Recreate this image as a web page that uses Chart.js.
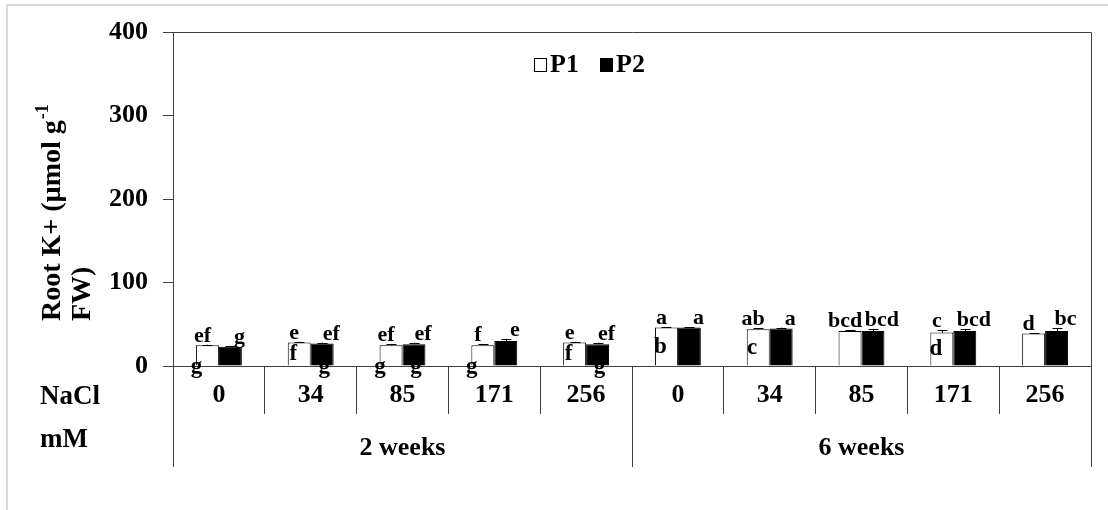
<!DOCTYPE html>
<html>
<head>
<meta charset="utf-8">
<script src="https://cdn.jsdelivr.net/npm/chart.js@4/dist/chart.umd.min.js"></script>
<style>
  html, body { margin: 0; padding: 0; background: #fff; }
  #wrap { position: relative; width: 1108px; height: 510px; overflow: hidden; background: #fff; }
  #frame { position: absolute; left: 6px; top: 4px; width: 1200px; height: 600px;
           border-left: 2px solid #d9d9d9; border-top: 2px solid #d9d9d9; }
  canvas { position: absolute; left: 0; top: 0; }
</style>
</head>
<body>
<div id="wrap">
  <div id="frame"></div>
  <canvas id="chart" width="1108" height="510"></canvas>
</div>
<script>
// NaCl doses (mM) for each harvest
const doses = ['0', '34', '85', '171', '256', '0', '34', '85', '171', '256'];
const periods = ['2 weeks', '6 weeks'];
const seriesNames = ['P1', 'P2'];

// Root K+ (µmol g-1 FW)
const p1 = [25, 28, 25, 25, 28, 46, 44, 42, 40, 39];
const p2 = [23, 27, 26, 30, 26, 46, 45, 42, 42, 42];
const p1Err = [0.5, 1, 1, 1, 1, 0.5, 1, 1, 3, 0.5];
const p2Err = [1, 1, 2, 2, 2, 0.5, 1, 2, 2, 3];

// significance letters
const p1Letters = ['ef', 'e', 'ef', 'f', 'e', 'a', 'ab', 'bcd', 'c', 'd'];
const p2Letters = ['g', 'ef', 'ef', 'e', 'ef', 'a', 'a', 'bcd', 'bcd', 'bc'];
const p1MidLetters = ['', 'f', '', '', 'f', 'b', 'c', '', 'd', ''];
const p1BaseLetters = ['g', '', 'g', 'g', '', '', '', '', '', ''];
const p2BaseLetters = ['', 'g', 'g', '', 'g', '', '', '', '', ''];

const yTicks = [0, 100, 200, 300, 400];
const yMin = 0, yMax = 400;

const FONT = '"Liberation Serif", "Times New Roman", serif';
const LINE = '#404040';

const decor = {
  id: 'decor',
  afterDraw(chart) {
    const ctx = chart.ctx;
    const area = chart.chartArea;
    const xs = chart.scales.x;
    const ys = chart.scales.y;
    const base = ys.getPixelForValue(0);

    ctx.save();
    // plot frame: top and right edges
    ctx.strokeStyle = LINE;
    ctx.lineWidth = 1;
    ctx.beginPath();
    ctx.moveTo(area.left, area.top + 0.5);
    ctx.lineTo(area.right + 0.5, area.top + 0.5);
    ctx.lineTo(area.right + 0.5, area.bottom);
    ctx.stroke();

    // long separators for the harvest groups
    const half = (xs.getPixelForValue(1) - xs.getPixelForValue(0)) / 2;
    const per = doses.length / periods.length;
    const bounds = [];
    for (let g = 0; g <= periods.length; g++) {
      const idx = g * per;
      bounds.push(idx < doses.length ? xs.getPixelForValue(idx) - half
                                     : xs.getPixelForValue(doses.length - 1) + half);
    }
    ctx.beginPath();
    bounds.forEach(bx => {
      const px = Math.round(bx) + 0.5;
      ctx.moveTo(px, area.bottom);
      ctx.lineTo(px, 467);
    });
    ctx.stroke();

    // group labels and row captions
    ctx.fillStyle = '#000';
    ctx.font = 'bold 26px ' + FONT;
    ctx.textAlign = 'center';
    ctx.textBaseline = 'middle';
    periods.forEach((p, g) => {
      ctx.fillText(p, (bounds[g] + bounds[g + 1]) / 2, 448);
    });
    ctx.textAlign = 'left';
    ctx.font = 'bold 27px ' + FONT;
    ctx.fillText('NaCl', 40, 397);
    ctx.fillText('mM', 40, 440);

    // y axis title (two lines, rotated)
    ctx.font = 'bold 28px ' + FONT;
    ctx.save();
    ctx.translate(53, 321);
    ctx.rotate(-Math.PI / 2);
    ctx.textAlign = 'left';
    ctx.textBaseline = 'middle';
    const t1 = 'Root K+ (µmol g';
    ctx.fillText(t1, 0, 0);
    const w1 = ctx.measureText(t1).width;
    ctx.font = 'bold 18px ' + FONT;
    ctx.fillText('-1', w1 + 1, -10);
    ctx.restore();
    ctx.save();
    ctx.font = 'bold 28px ' + FONT;
    ctx.translate(83, 321);
    ctx.rotate(-Math.PI / 2);
    ctx.textAlign = 'left';
    ctx.textBaseline = 'middle';
    ctx.fillText('FW)', 0, 0);
    ctx.restore();

    // legend
    ctx.font = 'bold 26px ' + FONT;
    ctx.textAlign = 'left';
    ctx.textBaseline = 'middle';
    const legX = [534, 600];
    chart.data.datasets.forEach((ds, i) => {
      const bx = legX[i];
      ctx.fillStyle = ds.backgroundColor;
      ctx.fillRect(bx, 58, 13, 14);
      ctx.strokeStyle = '#000';
      ctx.lineWidth = 1;
      ctx.strokeRect(bx + 0.5, 58.5, 12, 13);
      ctx.fillStyle = '#000';
      ctx.fillText(ds.label, bx + 16, 65);
    });

    // error bars and letters
    const errs = [p1Err, p2Err];
    const tops = [p1Letters, p2Letters];
    const bases = [p1BaseLetters, p2BaseLetters];
    const topShift = [-5, 9];
    const baseShift = [-11, 2];
    chart.data.datasets.forEach((ds, i) => {
      const meta = chart.getDatasetMeta(i);
      meta.data.forEach((bar, j) => {
        const v = ds.data[j];
        const yTop = ys.getPixelForValue(v + errs[i][j]);
        const cx = Math.round(bar.x) + 0.5;
        ctx.strokeStyle = '#000';
        ctx.lineWidth = 1;
        ctx.beginPath();
        ctx.moveTo(cx, bar.y);
        ctx.lineTo(cx, yTop);
        ctx.moveTo(cx - 5, Math.round(yTop) + 0.5);
        ctx.lineTo(cx + 5, Math.round(yTop) + 0.5);
        ctx.stroke();

        ctx.fillStyle = '#000';
        ctx.font = 'bold 22px ' + FONT;
        ctx.textAlign = 'center';
        ctx.textBaseline = 'alphabetic';
        ctx.fillText(tops[i][j], bar.x + topShift[i], yTop - 3);

        ctx.font = 'bold 23px ' + FONT;
        ctx.textBaseline = 'middle';
        if (bases[i][j]) ctx.fillText(bases[i][j], bar.x + baseShift[i], base + 1);
        if (i === 0 && p1MidLetters[j]) {
          ctx.fillText(p1MidLetters[j], bar.x - 6, (bar.y + base) / 2);
        }
      });
    });
    ctx.restore();
  }
};

new Chart(document.getElementById('chart'), {
  type: 'bar',
  data: {
    labels: doses,
    datasets: [
      { label: seriesNames[0], data: p1, backgroundColor: '#ffffff', borderColor: '#000000',
        borderWidth: 1, categoryPercentage: 0.5, barPercentage: 1.0 },
      { label: seriesNames[1], data: p2, backgroundColor: '#000000', borderColor: '#000000',
        borderWidth: 1, categoryPercentage: 0.5, barPercentage: 1.0 }
    ]
  },
  options: {
    responsive: false,
    animation: false,
    devicePixelRatio: 1,
    layout: { padding: { left: 0, top: 32, right: 17, bottom: 0 } },
    plugins: { legend: { display: false }, tooltip: { enabled: false } },
    scales: {
      x: {
        offset: true,
        grid: { offset: true, drawOnChartArea: false, tickLength: 48, color: LINE, lineWidth: 1 },
        border: { color: LINE, width: 1 },
        ticks: { color: '#000', font: { family: FONT, size: 26, weight: 'bold' },
                 padding: -34, maxRotation: 0, autoSkip: false },
        afterFit(s) { s.height = 144; }
      },
      y: {
        min: yMin, max: yMax,
        afterBuildTicks(s) { s.ticks = yTicks.map(v => ({ value: v })); },
        grid: { drawOnChartArea: false, tickLength: 10, color: LINE, lineWidth: 1 },
        border: { color: LINE, width: 1 },
        ticks: { color: '#000', font: { family: FONT, size: 26, weight: 'bold' }, padding: 15 },
        afterFit(s) { s.width = 173; }
      }
    }
  },
  plugins: [decor]
});
</script>
</body>
</html>
